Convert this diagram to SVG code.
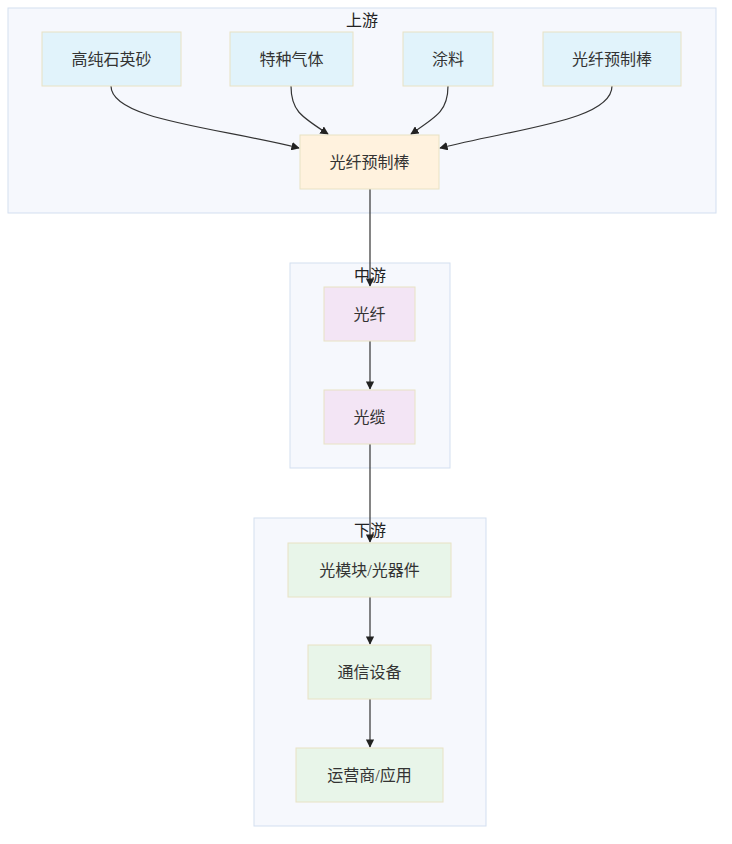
<svg xmlns="http://www.w3.org/2000/svg" width="732" height="844" viewBox="0 0 732 844">
<style>
.cl{fill:#f6f8fd;stroke:#d3dff0;stroke-width:1}
.n rect{stroke:#e8e2c4;stroke-width:1}
.blue{fill:#e1f3fb}.orange{fill:#fff2de}.purple{fill:#f3e5f5}.green{fill:#e8f5e9}
text{font-family:"Liberation Serif","Noto Sans CJK SC",serif;font-size:16px;fill:#333;text-anchor:middle;dominant-baseline:central}
.t{fill:#222}
.e{fill:none;stroke:#333;stroke-width:1.2;marker-end:url(#a)}
</style>
<defs><marker id="a" viewBox="0 0 10 10" refX="9" refY="5" markerWidth="7" markerHeight="7" orient="auto"><path d="M0,0L10,5L0,10z" fill="#222"/></marker></defs>
<g id="clusters">
<rect class="cl" x="8" y="8" width="708" height="205"/>
<text class="t" x="362" y="20">上游</text>
<rect class="cl" x="290" y="263" width="160" height="205"/>
<text class="t" x="370" y="275">中游</text>
<rect class="cl" x="254" y="518" width="232" height="308"/>
<text class="t" x="370" y="530">下游</text>
</g>
<g id="edges">
<path class="e" d="M111,86C111,120 220,128 299,148"/>
<path class="e" d="M291,86C291,110 300,116 328,134"/>
<path class="e" d="M448,86C448,110 438,116 411,134"/>
<path class="e" d="M612,86C612,120 520,128 440,148"/>
<path class="e" d="M370,189V286"/>
<path class="e" d="M370,341V389"/>
<path class="e" d="M370,444V542"/>
<path class="e" d="M370,597V644"/>
<path class="e" d="M370,699V747"/>
</g>
<g id="n1" class="n"><rect class="blue" x="42" y="32" width="139" height="54"/><text x="111.5" y="59">高纯石英砂</text></g>
<g id="n2" class="n"><rect class="blue" x="230" y="32" width="123" height="54"/><text x="291.5" y="59">特种气体</text></g>
<g id="n3" class="n"><rect class="blue" x="403" y="32" width="90" height="54"/><text x="448" y="59">涂料</text></g>
<g id="n4" class="n"><rect class="blue" x="543" y="32" width="138" height="54"/><text x="612" y="59">光纤预制棒</text></g>
<g id="n5" class="n"><rect class="orange" x="300" y="135" width="139" height="54"/><text x="369.5" y="162">光纤预制棒</text></g>
<g id="n6" class="n"><rect class="purple" x="324" y="287" width="91" height="54"/><text x="369.5" y="314">光纤</text></g>
<g id="n7" class="n"><rect class="purple" x="324" y="390" width="91" height="54"/><text x="369.5" y="417">光缆</text></g>
<g id="n8" class="n"><rect class="green" x="288" y="543" width="163" height="54"/><text x="369.5" y="570">光模块/光器件</text></g>
<g id="n9" class="n"><rect class="green" x="308" y="645" width="123" height="54"/><text x="369.5" y="672">通信设备</text></g>
<g id="n10" class="n"><rect class="green" x="296" y="748" width="147" height="54"/><text x="369.5" y="775">运营商/应用</text></g>
</svg>
